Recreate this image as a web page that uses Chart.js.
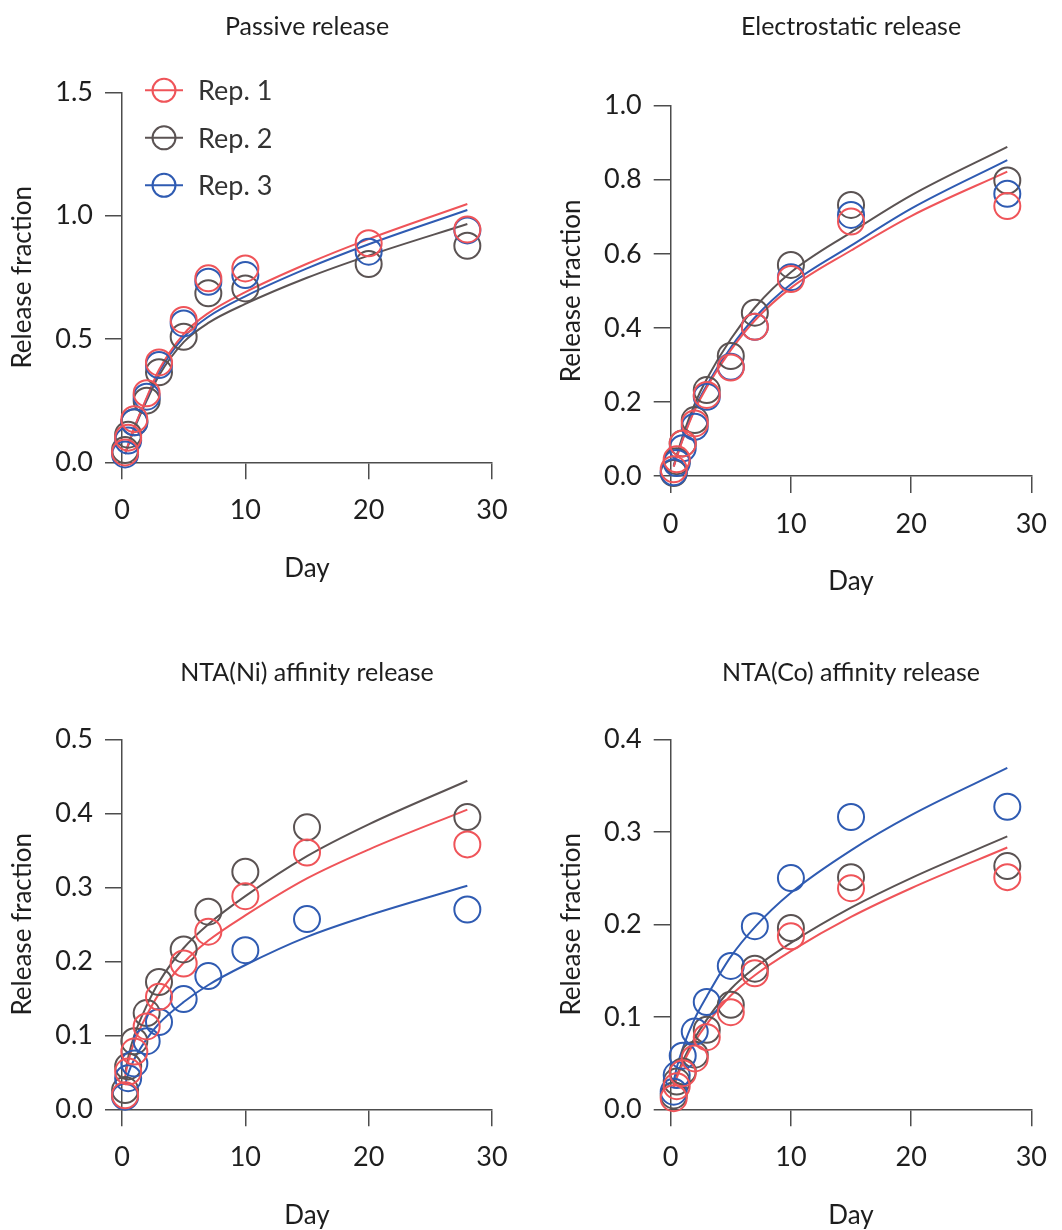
<!DOCTYPE html>
<html>
<head>
<meta charset="utf-8">
<title>Release fraction over time</title>
<script src="https://cdn.jsdelivr.net/npm/chart.js@4/dist/chart.umd.min.js"></script>
<style>
  html, body { margin: 0; padding: 0; background: #fff; }
  #wrap { position: relative; width: 1062px; height: 1230px; }
  canvas { position: absolute; }
</style>
</head>
<body>
<div id="wrap">
  <canvas id="passive" width="531" height="615" style="left:0;top:0"></canvas>
  <canvas id="electro" width="531" height="615" style="left:531px;top:0"></canvas>
  <canvas id="nickel" width="531" height="615" style="left:0;top:615px"></canvas>
  <canvas id="cobalt" width="531" height="615" style="left:531px;top:615px"></canvas>
</div>
<script>
// sampling days (measured points) and the days the fitted curves are drawn at
const passiveDays = [0.25, 0.5, 1, 2, 3, 5, 7, 10, 20, 28];
const releaseDays = [0.25, 0.5, 1, 2, 3, 5, 7, 10, 15, 28];
const fitDays = [0.25, 0.5, 1, 2, 3, 5, 7, 10, 15, 20, 28];

const repLabels = ['Rep. 1', 'Rep. 2', 'Rep. 3'];
const repColors = ['#ef5459', '#5b5353', '#2f5bb2'];
const dayTicks = [0, 10, 20, 30];

// Passive release
const passiveTicks = [0, 0.5, 1.0, 1.5];
const passiveRep1 = [0.040, 0.100, 0.175, 0.280, 0.405, 0.577, 0.746, 0.786, 0.888, 0.944];
const passiveRep2 = [0.050, 0.112, 0.162, 0.250, 0.365, 0.509, 0.685, 0.705, 0.804, 0.878];
const passiveRep3 = [0.032, 0.088, 0.162, 0.266, 0.394, 0.563, 0.732, 0.759, 0.854, 0.940];
const passiveFit1 = [0.035, 0.072, 0.142, 0.262, 0.375, 0.520, 0.605, 0.690, 0.805, 0.905, 1.047];
const passiveFit2 = [0.033, 0.068, 0.136, 0.250, 0.352, 0.487, 0.565, 0.642, 0.748, 0.838, 0.966];
const passiveFit3 = [0.034, 0.070, 0.140, 0.258, 0.366, 0.507, 0.590, 0.673, 0.786, 0.884, 1.023];

// Electrostatic release
const electroTicks = [0, 0.2, 0.4, 0.6, 0.8, 1.0];
const electroRep1 = [0.018, 0.045, 0.088, 0.142, 0.219, 0.293, 0.403, 0.532, 0.687, 0.729];
const electroRep2 = [0.008, 0.040, 0.088, 0.151, 0.232, 0.324, 0.441, 0.570, 0.732, 0.798];
const electroRep3 = [0.010, 0.035, 0.075, 0.133, 0.214, 0.295, 0.403, 0.537, 0.705, 0.762];
const electroFit1 = [0.025, 0.050, 0.098, 0.178, 0.240, 0.340, 0.420, 0.508, 0.609, 0.702, 0.822];
const electroFit2 = [0.028, 0.056, 0.108, 0.195, 0.262, 0.370, 0.455, 0.550, 0.658, 0.758, 0.889];
const electroFit3 = [0.026, 0.052, 0.100, 0.182, 0.245, 0.347, 0.428, 0.518, 0.622, 0.722, 0.853];

// NTA(Ni) affinity release
const nickelTicks = [0, 0.1, 0.2, 0.3, 0.4, 0.5];
const nickelRep1 = [0.019, 0.051, 0.078, 0.112, 0.152, 0.197, 0.240, 0.288, 0.347, 0.358];
const nickelRep2 = [0.026, 0.058, 0.092, 0.130, 0.172, 0.216, 0.267, 0.321, 0.381, 0.395];
const nickelRep3 = [0.017, 0.042, 0.062, 0.092, 0.118, 0.149, 0.180, 0.215, 0.257, 0.270];
const nickelFit1 = [0.044, 0.064, 0.091, 0.127, 0.156, 0.198, 0.228, 0.262, 0.312, 0.351, 0.405];
const nickelFit2 = [0.048, 0.070, 0.100, 0.140, 0.172, 0.218, 0.250, 0.288, 0.342, 0.385, 0.444];
const nickelFit3 = [0.033, 0.048, 0.068, 0.095, 0.116, 0.145, 0.168, 0.195, 0.233, 0.262, 0.302];

// NTA(Co) affinity release
const cobaltTicks = [0, 0.1, 0.2, 0.3, 0.4];
const cobaltRep1 = [0.012, 0.025, 0.039, 0.055, 0.078, 0.105, 0.147, 0.187, 0.239, 0.251];
const cobaltRep2 = [0.015, 0.030, 0.041, 0.059, 0.086, 0.113, 0.152, 0.196, 0.251, 0.263];
const cobaltRep3 = [0.019, 0.037, 0.058, 0.084, 0.116, 0.155, 0.198, 0.250, 0.316, 0.327];
const cobaltFit1 = [0.023, 0.034, 0.049, 0.073, 0.092, 0.123, 0.145, 0.171, 0.208, 0.239, 0.283];
const cobaltFit2 = [0.025, 0.036, 0.052, 0.077, 0.097, 0.130, 0.153, 0.180, 0.218, 0.250, 0.295];
const cobaltFit3 = [0.030, 0.045, 0.066, 0.098, 0.122, 0.165, 0.197, 0.234, 0.280, 0.318, 0.369];

Chart.defaults.font.family = 'Lato, "Open Sans", sans-serif';
Chart.defaults.color = '#1e1e1e';
Chart.defaults.animation = false;

const axisColor = '#4d4d4d';

function toPoints(days, values) {
  return days.map((d, i) => ({ x: d, y: values[i] }));
}

// Rep. 1 / 2 / 3 key with a line through an open circle, drawn in the top-left corner
const repLegend = {
  id: 'repLegend',
  afterDraw(chart) {
    const { ctx, chartArea } = chart;
    ctx.save();
    repLabels.forEach((label, i) => {
      const y = chartArea.top - 2 + i * 47.5;
      const x0 = chartArea.left + 23;
      ctx.strokeStyle = repColors[i];
      ctx.lineWidth = 2;
      ctx.beginPath();
      ctx.moveTo(x0, y);
      ctx.lineTo(x0 + 38, y);
      ctx.stroke();
      ctx.beginPath();
      ctx.arc(x0 + 19, y, 11.5, 0, Math.PI * 2);
      ctx.stroke();
      ctx.fillStyle = '#333';
      ctx.font = '27px Lato, "Open Sans", sans-serif';
      ctx.textBaseline = 'middle';
      ctx.textAlign = 'left';
      ctx.fillText(label, x0 + 53, y + 1);
    });
    ctx.restore();
  }
};

function makePanel(id, opts) {
  const datasets = [];
  // open circles, Rep. 1 on top
  [0, 2, 1].forEach(i => {
    datasets.push({
      label: repLabels[i],
      data: toPoints(opts.days, opts.reps[i]),
      showLine: false,
      pointStyle: 'circle',
      pointRadius: 13,
      pointHoverRadius: 13,
      pointBorderWidth: 2,
      pointBorderColor: repColors[i],
      pointBackgroundColor: 'rgba(255,255,255,0)',
      clip: false
    });
  });
  // fitted curves
  [0, 2, 1].forEach(i => {
    datasets.push({
      label: repLabels[i] + ' fit',
      data: toPoints(fitDays, opts.fits[i]),
      showLine: true,
      borderColor: repColors[i],
      borderWidth: 2,
      pointRadius: 0,
      cubicInterpolationMode: 'monotone',
      clip: false
    });
  });

  const yTicks = opts.yTicks;
  return new Chart(document.getElementById(id), {
    type: 'scatter',
    data: { datasets: datasets },
    plugins: opts.legend ? [repLegend] : [],
    options: {
      responsive: false,
      maintainAspectRatio: false,
      devicePixelRatio: 1,
      layout: { padding: opts.pad },
      plugins: {
        legend: { display: false },
        tooltip: { enabled: false },
        title: {
          display: true,
          text: opts.title,
          fullSize: false,
          color: '#1e1e1e',
          font: { size: 25, weight: 'normal', lineHeight: 1 },
          padding: { top: 0, bottom: opts.titleGap }
        }
      },
      scales: {
        x: {
          type: 'linear',
          min: dayTicks[0],
          max: dayTicks[dayTicks.length - 1],
          afterFit: s => { s.height = 119; },
          afterBuildTicks: s => { s.ticks = dayTicks.map(v => ({ value: v })); },
          grid: { drawOnChartArea: false, drawTicks: true, tickLength: 17, color: axisColor, lineWidth: 1.5 },
          border: { display: true, color: axisColor, width: 1.5 },
          ticks: { padding: 15, font: { size: 27 }, color: '#1e1e1e', maxRotation: 0 },
          title: { display: true, text: 'Day', font: { size: 26, lineHeight: 1 }, padding: 0, color: '#1e1e1e' }
        },
        y: {
          type: 'linear',
          min: yTicks[0],
          max: yTicks[yTicks.length - 1],
          afterFit: s => { s.width = 122; },
          afterBuildTicks: s => { s.ticks = yTicks.map(v => ({ value: v })); },
          grid: { drawOnChartArea: false, drawTicks: true, tickLength: 17, color: axisColor, lineWidth: 1.5 },
          border: { display: true, color: axisColor, width: 1.5 },
          ticks: { padding: 12, font: { size: 27 }, color: '#1e1e1e', callback: v => v.toFixed(1) },
          title: { display: true, text: 'Release fraction', font: { size: 26, lineHeight: 1 }, padding: { top: 10, bottom: 0 }, color: '#1e1e1e' }
        }
      }
    }
  });
}

makePanel('passive', {
  title: 'Passive release',
  days: passiveDays,
  reps: [passiveRep1, passiveRep2, passiveRep3],
  fits: [passiveFit1, passiveFit2, passiveFit3],
  yTicks: passiveTicks,
  legend: true,
  pad: { left: 0, right: 39, top: 14.5, bottom: 33.7 },
  titleGap: 52.8
});

makePanel('electro', {
  title: 'Electrostatic release',
  days: releaseDays,
  reps: [electroRep1, electroRep2, electroRep3],
  fits: [electroFit1, electroFit2, electroFit3],
  yTicks: electroTicks,
  pad: { left: 17.7, right: 21.3, top: 14.5, bottom: 20 },
  titleGap: 66.2
});

makePanel('nickel', {
  title: 'NTA(Ni) affinity release',
  days: releaseDays,
  reps: [nickelRep1, nickelRep2, nickelRep3],
  fits: [nickelFit1, nickelFit2, nickelFit3],
  yTicks: nickelTicks,
  pad: { left: 0, right: 39, top: 45.5, bottom: 1.7 },
  titleGap: 53.8
});

makePanel('cobalt', {
  title: 'NTA(Co) affinity release',
  days: releaseDays,
  reps: [cobaltRep1, cobaltRep2, cobaltRep3],
  fits: [cobaltFit1, cobaltFit2, cobaltFit3],
  yTicks: cobaltTicks,
  pad: { left: 17.7, right: 21.3, top: 45.5, bottom: 1.7 },
  titleGap: 53.8
});
</script>
</body>
</html>
